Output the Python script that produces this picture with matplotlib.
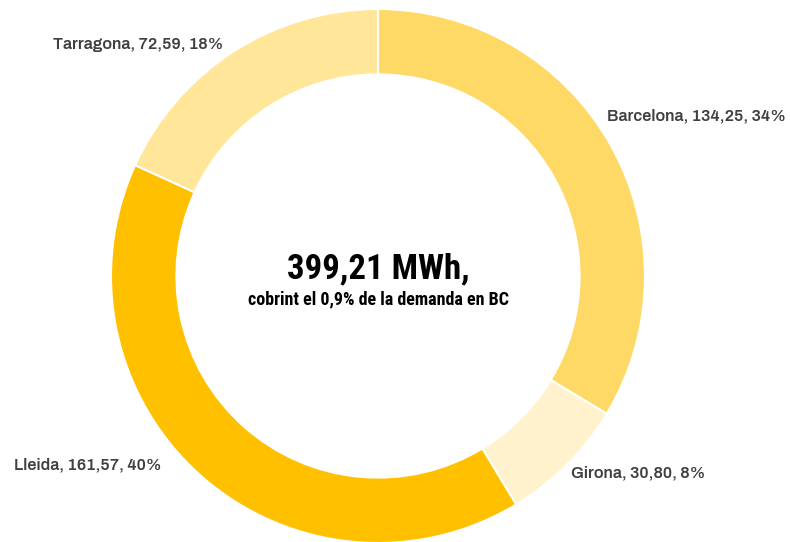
import matplotlib.pyplot as plt

regions = ["Barcelona", "Girona", "Lleida", "Tarragona"]
energy = [134.25, 30.80, 161.57, 72.59]
shares = [34, 8, 40, 18]
colors = ["#FFD966", "#FFF2CC", "#FFC000", "#FFE699"]

total_label = "399,21 MWh,"
sub_label = "cobrint el 0,9% de la demanda en BC"

# label anchor points in pixel coords (x centre, baseline y from top)
label_pos = [(696, 120), (638, 477), (88, 469), (138, 49)]

W, H = 790, 542
fig = plt.figure(figsize=(W / 100, H / 100), dpi=100)
ax = fig.add_axes([0, 0, 1, 1])

cx, cy, R = 378, 276, 267
ax.pie(energy, colors=colors, startangle=90, counterclock=False,
       center=(cx, H - cy), radius=R,
       wedgeprops=dict(width=R * 0.245, edgecolor="white", linewidth=1.5))

ax.set_xlim(0, W)
ax.set_ylim(0, H)
ax.set_aspect("equal")
ax.axis("off")

for name, val, pct, (x, y) in zip(regions, energy, shares, label_pos):
    txt = f"{name}, {val:.2f}".replace(".", ",") + f", {pct}%"
    ax.text(x, H - y, txt, ha="center", va="baseline", fontsize=11.7,
            fontweight="bold", color="#404040", family="Archivo")

ax.text(cx, H - 278, total_label, ha="center", va="baseline", fontsize=25,
        fontweight="bold", color="black", family="Roboto Condensed")
ax.text(cx, H - 304, sub_label, ha="center", va="baseline", fontsize=13,
        fontweight="bold", color="black", family="Roboto Condensed")

fig.savefig("out.png", dpi=100)
